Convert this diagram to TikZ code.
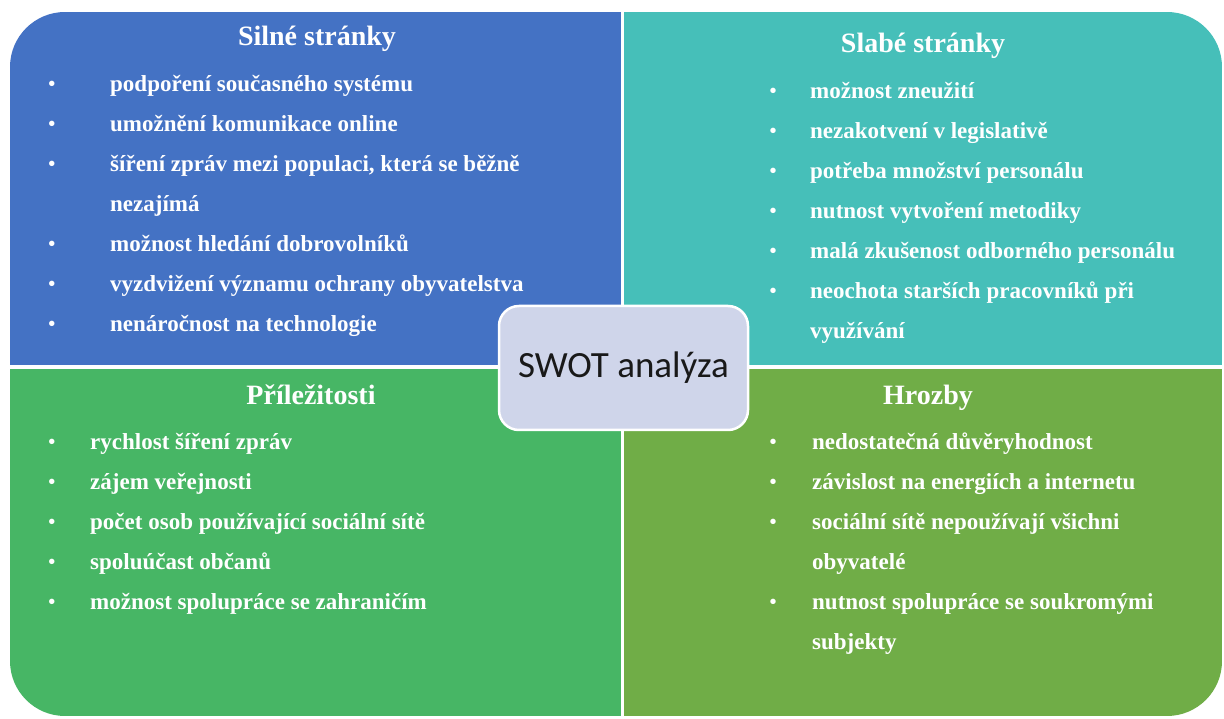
\documentclass[tikz,border=0pt]{standalone}
\usepackage{fontspec}
\setmainfont{Liberation Serif}
\newfontfamily\calfont{Carlito}
\definecolor{silne}{HTML}{4472C4}
\definecolor{slabe}{HTML}{46BFB9}
\definecolor{prilez}{HTML}{47B665}
\definecolor{hrozby}{HTML}{70AD47}
\definecolor{swotfill}{HTML}{CFD5EA}
\begin{document}
\begin{tikzpicture}[x=1pt,y=1pt,
    title/.style={text=white,font=\bfseries\fontsize{28}{28}\selectfont,anchor=base,inner sep=0pt},
    item/.style={text=white,font=\bfseries\fontsize{23}{23}\selectfont,anchor=base west,inner sep=0pt},
    dot/.style={text=white,font=\bfseries\fontsize{20}{20}\selectfont,anchor=base,inner sep=0pt}]
    \useasboundingbox (0,0) rectangle (1224,718);
    % four fields, outer corners rounded
    \begin{scope}
        \clip[rounded corners=55pt] (10,2) rectangle (1222,706);
        \fill[silne] (10,353) rectangle (621,706);
        \fill[slabe] (624,353) rectangle (1222,706);
        \fill[prilez] (10,2) rectangle (621,349);
        \fill[hrozby] (624,2) rectangle (1222,349);
    \end{scope}
    % S
    \node[title] (S) at (317,672) {Silné stránky};
    \foreach \t/\b [count=\i] in {{podpoření současného systému}/1,{umožnění komunikace online}/1,
        {šíření zpráv mezi populaci, která se běžně}/1,{nezajímá}/0,{možnost hledání dobrovolníků}/1,
        {vyzdvižení významu ochrany obyvatelstva}/1,{nenáročnost na technologie}/1}
    {
        \node[item] (s\i) at (110,666-40*\i) {\t};
        \ifnum\b=1 \node[dot] (sb\i) at (52,667-40*\i) {\textbullet}; \fi
    }
    % W
    \node[title] (W) at (923,665) {Slabé stránky};
    \foreach \t/\b [count=\i] in {{možnost zneužití}/1,{nezakotvení v legislativě}/1,
        {potřeba množství personálu}/1,{nutnost vytvoření metodiky}/1,
        {malá zkušenost odborného personálu}/1,{neochota starších pracovníků při}/1,{využívání}/0}
    {
        \node[item] (w\i) at (810,659-40*\i) {\t};
        \ifnum\b=1 \node[dot] (wb\i) at (773,660-40*\i) {\textbullet}; \fi
    }
    % O
    \node[title] (O) at (311,313) {Příležitosti};
    \foreach \t/\b [count=\i] in {{rychlost šíření zpráv}/1,{zájem veřejnosti}/1,
        {počet osob používající sociální sítě}/1,{spoluúčast občanů}/1,
        {možnost spolupráce se zahraničím}/1}
    {
        \node[item] (o\i) at (90,308-40*\i) {\t};
        \ifnum\b=1 \node[dot] (ob\i) at (52,309-40*\i) {\textbullet}; \fi
    }
    % T
    \node[title] (T) at (928,313) {Hrozby};
    \foreach \t/\b [count=\i] in {{nedostatečná důvěryhodnost}/1,{závislost na energiích a internetu}/1,
        {sociální sítě nepoužívají všichni}/1,{obyvatelé}/0,
        {nutnost spolupráce se soukromými}/1,{subjekty}/0}
    {
        \node[item] (t\i) at (812,308-40*\i) {\t};
        \ifnum\b=1 \node[dot] (tb\i) at (773,309-40*\i) {\textbullet}; \fi
    }
    % middle
    \node[draw=white,line width=2.5pt,fill=swotfill,rounded corners=20pt,
        minimum width=249pt,minimum height=124pt,text=black!90,
        font=\calfont\fontsize{37}{37}\selectfont] (swot) at (623.5,350) {SWOT analýza};
\end{tikzpicture}
\end{document}
